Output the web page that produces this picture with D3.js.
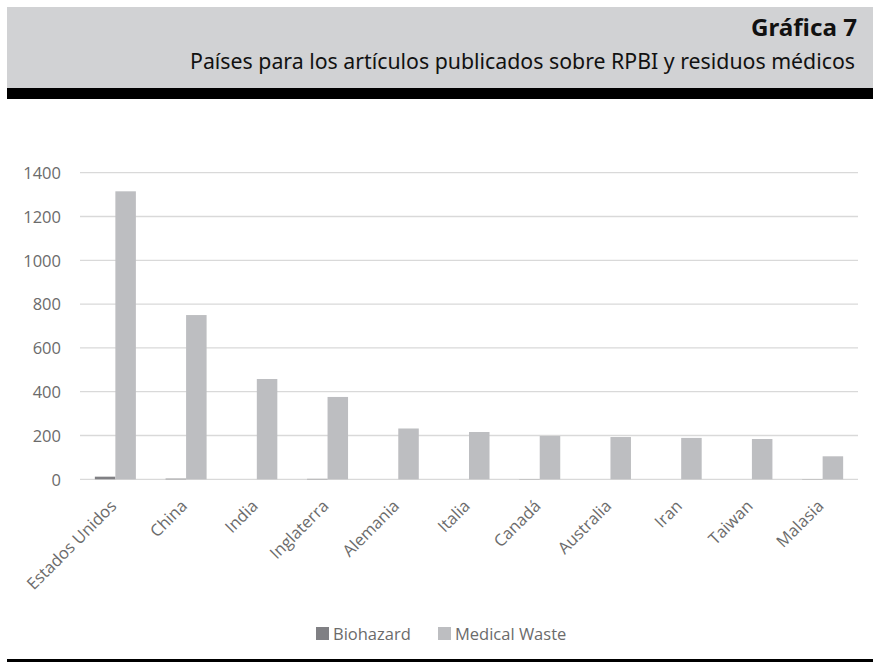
<!DOCTYPE html>
<html>
<head>
<meta charset="utf-8">
<script src="https://cdn.jsdelivr.net/npm/d3@7"></script>
<style>
  html, body { margin: 0; padding: 0; background: #fff; }
  svg { display: block; }
</style>
</head>
<body>
<svg id="chart" width="873" height="662"></svg>
<script>
const categories = ["Estados Unidos", "China", "India", "Inglaterra", "Alemania", "Italia", "Canadá", "Australia", "Iran", "Taiwan", "Malasia"];
const seriesNames = ["Biohazard", "Medical Waste"];
const biohazard = [12, 3, 0, 2, 0, 0, 1, 0, 0, 0, 1];
const medicalWaste = [1315, 750, 458, 376, 232, 216, 198, 193, 189, 184, 105];
const yTicks = [0, 200, 400, 600, 800, 1000, 1200, 1400];
const seriesColors = ["#808084", "#bdbec1"];
const titleText = "Gráfica 7";
const subtitleText = "Países para los artículos publicados sobre RPBI y residuos médicos";

const svg = d3.select("#chart");

// Header band
svg.append("rect").attr("x", 7).attr("y", 7).attr("width", 866).attr("height", 81).attr("fill", "#d1d2d4");
svg.append("rect").attr("x", 7).attr("y", 88).attr("width", 866).attr("height", 11).attr("fill", "#000");
svg.append("text").attr("x", 857).attr("y", 36).attr("text-anchor", "end")
  .attr("font-family", "'Noto Sans', sans-serif").attr("font-weight", "bold").attr("font-size", 23)
  .attr("fill", "#111").attr("textLength", 106).attr("lengthAdjust", "spacingAndGlyphs").text(titleText);
svg.append("text").attr("x", 855).attr("y", 69).attr("text-anchor", "end")
  .attr("font-family", "'Noto Sans', sans-serif").attr("font-size", 21.3)
  .attr("fill", "#111").text(subtitleText);

// Bottom bar
svg.append("rect").attr("x", 7).attr("y", 659).attr("width", 866).attr("height", 3).attr("fill", "#000");

// Scales
const x0 = d3.scaleBand().domain(categories).range([80, 858]).paddingInner(0.42).paddingOuter(0.21);
const x1 = d3.scaleBand().domain(seriesNames).range([0, x0.bandwidth()]);
const y = d3.scaleLinear().domain([0, 1400]).range([479.3, 172.7]);

// Gridlines
svg.append("g").selectAll("line").data(yTicks).join("line")
  .attr("x1", 80).attr("x2", 858)
  .attr("y1", d => y(d)).attr("y2", d => y(d))
  .attr("stroke", "#d9d9d9").attr("stroke-width", 1.3);

// Y axis labels
const yAxis = d3.axisLeft(y).tickValues(yTicks).tickFormat(d3.format("d")).tickSize(0).tickPadding(0);
const yg = svg.append("g").attr("transform", "translate(61,0)").call(yAxis);
yg.select(".domain").remove();
yg.selectAll("text").attr("font-family", "'Open Sans', sans-serif").attr("font-size", 16.5)
  .attr("fill", "#6b6b6b").attr("dy", "0.35em");

// Bars
const rows = categories.map((c, i) => ({ cat: c, vals: [biohazard[i], medicalWaste[i]] }));
const groups = svg.append("g").selectAll("g").data(rows).join("g")
  .attr("transform", d => `translate(${x0(d.cat)},0)`);
groups.selectAll("rect").data(d => d.vals.map((v, j) => ({ s: seriesNames[j], v, j }))).join("rect")
  .attr("x", d => x1(d.s)).attr("width", x1.bandwidth())
  .attr("y", d => y(d.v)).attr("height", d => y(0) - y(d.v))
  .attr("fill", d => seriesColors[d.j]);

// X axis labels
const xAxis = d3.axisBottom(x0).tickSize(0).tickPadding(0);
const xg = svg.append("g").call(xAxis);
xg.select(".domain").remove();
xg.selectAll(".tick").attr("transform", d => `translate(${x0(d) + x0.bandwidth() / 2 - 2},503)`);
xg.selectAll("text").attr("font-family", "'Open Sans', sans-serif").attr("font-size", 16.5)
  .attr("fill", "#6b6b6b").attr("text-anchor", "end").attr("x", 0).attr("y", 0).attr("dy", "0.35em")
  .attr("transform", "rotate(-45)");

// Legend
const legendItems = [{ name: seriesNames[0], color: seriesColors[0], x: 316 }, { name: seriesNames[1], color: seriesColors[1], x: 438 }];
const lg = svg.append("g").selectAll("g").data(legendItems).join("g")
  .attr("transform", d => `translate(${d.x},627)`);
lg.append("rect").attr("width", 13).attr("height", 13).attr("fill", d => d.color);
lg.append("text").attr("x", 17).attr("y", 13).attr("font-family", "'Open Sans', sans-serif")
  .attr("font-size", 16.5).attr("fill", "#6b6b6b").text(d => d.name);
</script>
</body>
</html>
